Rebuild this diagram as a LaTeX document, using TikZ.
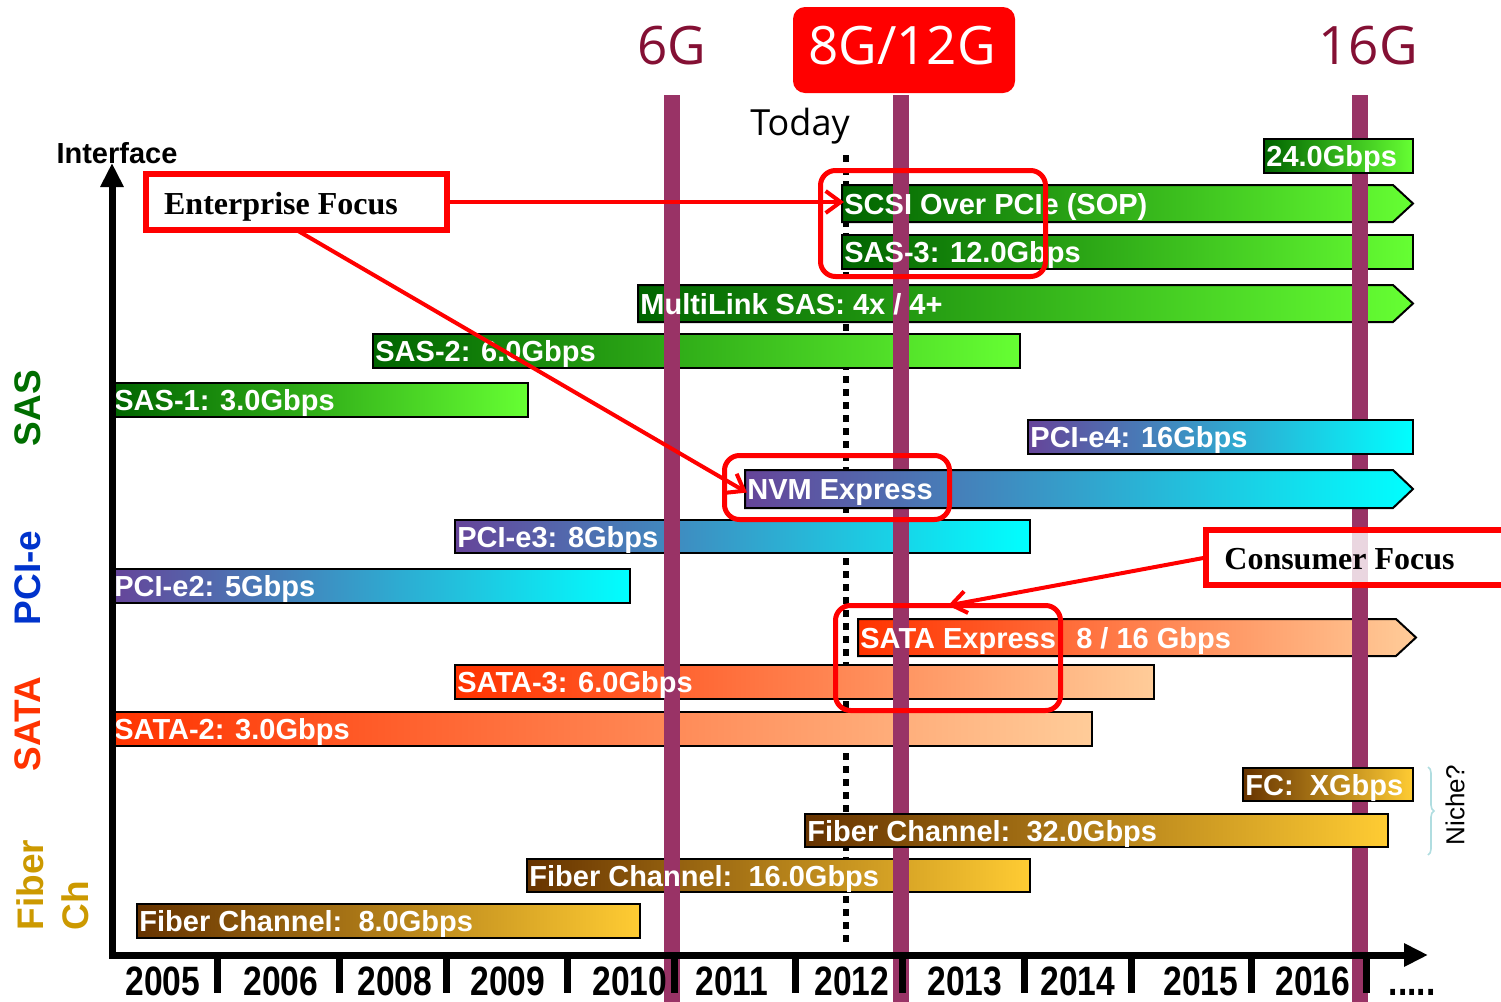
\documentclass[tikz,border=0pt]{standalone}
\usepackage{fontspec}
\setmainfont{Liberation Sans}
\newfontfamily\gfont{Open Sans}
\newfontfamily\tfont{Liberation Serif}
\usetikzlibrary{arrows.meta,decorations.pathreplacing}
\definecolor{purp}{RGB}{153,51,102}
\definecolor{gtxt}{RGB}{132,16,52}
\definecolor{sasD}{RGB}{0,100,0}
\definecolor{sasL}{RGB}{102,255,51}
\definecolor{pciD}{RGB}{102,68,153}
\definecolor{pciL}{RGB}{0,255,255}
\definecolor{sataD}{RGB}{255,51,0}
\definecolor{sataL}{RGB}{255,204,153}
\definecolor{fcD}{RGB}{102,51,0}
\definecolor{fcL}{RGB}{255,204,51}
\definecolor{sasLab}{RGB}{0,110,0}
\definecolor{pciLab}{RGB}{0,51,204}
\definecolor{sataLab}{RGB}{255,51,0}
\definecolor{fcLab}{RGB}{204,153,0}
\definecolor{brc}{RGB}{176,221,224}
\pgfdeclarelayer{back}
\pgfdeclarelayer{bars}
\pgfdeclarelayer{purpl}
\pgfdeclarelayer{topbars}
\pgfsetlayers{back,bars,purpl,topbars,main}
\tikzset{
 bartext/.style={text=white, font=\bfseries\fontsize{14.5}{14.5}\selectfont, inner sep=0pt, anchor=base west},
 barline/.style={draw=black, line width=1pt},
 callout/.style={draw=red, line width=3pt, fill=white, inner sep=0pt, outer sep=0pt},
 redround/.style={draw=red, line width=2.5pt, rounded corners=7.5pt, inner sep=0pt, outer sep=0pt},
 redarrow/.style={draw=red, line width=2pt, -{Straight Barb[length=7.5pt,width=11pt]}},
 yearlab/.style={font=\bfseries\fontsize{20.5}{20.5}\selectfont, xscale=0.82, anchor=base, inner sep=0pt},
 gen/.style={font=\gfont\fontsize{26.5}{26.5}\selectfont, anchor=base, inner sep=0pt},
 side/.style={font=\bfseries\fontsize{18.5}{22.5}\selectfont, rotate=90, inner sep=0pt},
 calltext/.style={font=\tfont\bfseries\fontsize{16}{16}\selectfont, anchor=base, inner sep=0pt},
}
% name, x1, y1, x2, y2, colour family, text, layer
\newcommand\gbar[8]{%
 \begin{pgfonlayer}{#8}\path[barline, left color=#6D, right color=#6L] (#2,#3) rectangle (#4,#5);\end{pgfonlayer}
 \node[bartext] (#1) at ({#2+2},{(#3+#5)/2+10.5}) {#7};}
\newcommand\abar[8]{%
 \begin{pgfonlayer}{#8}\path[barline, left color=#6D, right color=#6L] (#2,#3) -- ({#4-20},#3) -- (#4,{(#3+#5)/2}) -- ({#4-20},#5) -- (#2,#5) -- cycle;\end{pgfonlayer}
 \node[bartext] (#1) at ({#2+2},{(#3+#5)/2+10.5}) {#7};}
\begin{document}
\begin{tikzpicture}[x=0.5pt,y=-0.5pt]
\useasboundingbox (0,0) rectangle (1501,1002);
% today dotted line
\begin{pgfonlayer}{back}
\coordinate (dtop) at (846,155);
\coordinate (dbot) at (846,945);
\draw[line width=3pt, dash pattern=on 3.5pt off 3pt] (dtop) -- (dbot);
\end{pgfonlayer}
% purple generation lines
\begin{pgfonlayer}{purpl}
\fill[purp] (664,95) rectangle (680,1002);
\fill[purp] (893,95) rectangle (909,1002);
\fill[purp] (1352,95) rectangle (1368,1002);
\end{pgfonlayer}
% SAS
\gbar{b24}{1264}{139}{1413}{173}{sas}{24.0Gbps}{topbars}
\abar{sop}{842}{185}{1413}{222}{sas}{SCSI Over PCIe (SOP)}{bars}
\gbar{sas3}{842}{235}{1413}{269}{sas}{SAS-3: 12.0Gbps}{bars}
\abar{mls}{638}{285}{1413}{322}{sas}{MultiLink SAS: 4x / 4+}{bars}
\gbar{sas2}{373}{334}{1020}{368}{sas}{SAS-2: 6.0Gbps}{bars}
\gbar{sas1}{112}{383}{528}{417}{sas}{SAS-1: 3.0Gbps}{bars}
% PCIe
\gbar{pcie4}{1028}{420}{1413}{454}{pci}{PCI-e4: 16Gbps}{topbars}
\abar{nvm}{745}{470}{1413}{508}{pci}{NVM Express}{topbars}
\gbar{pcie3}{455}{520}{1030}{553}{pci}{PCI-e3: 8Gbps}{bars}
\gbar{pcie2}{112}{569}{630}{603}{pci}{PCI-e2: 5Gbps}{bars}
% SATA
\abar{satax}{858}{619}{1416}{656}{sata}{SATA Express: 8 / 16 Gbps}{bars}
\gbar{sata3}{455}{665}{1154}{699}{sata}{SATA-3: 6.0Gbps}{bars}
\gbar{sata2}{112}{712}{1092}{746}{sata}{SATA-2: 3.0Gbps}{bars}
% FC
\gbar{fcx}{1243}{768}{1413}{801}{fc}{FC:\ \ XGbps}{topbars}
\gbar{fc32}{805}{814}{1388}{847}{fc}{Fiber Channel:\ \ 32.0Gbps}{topbars}
\gbar{fc16}{527}{859}{1030}{892}{fc}{Fiber Channel:\ \ 16.0Gbps}{bars}
\gbar{fc8}{137}{904}{640}{938}{fc}{Fiber Channel:\ \ 8.0Gbps}{bars}
% generation labels
\node[gen, text=gtxt] (g6) at (672,64) {6G};
\node[fill=red, rounded corners=6pt, minimum width=111pt, minimum height=43pt, inner sep=0pt] (gbox) at (904,50) {};
\node[gen, text=white] (g812) at (902,64) {8G/12G};
\node[gen, text=gtxt] (g16) at (1368,64) {16G};
\node[font=\gfont\fontsize{18}{18}\selectfont, anchor=base, inner sep=0pt] (today) at (800,135) {Today};
% axes
\coordinate (ytip) at (112,163);
\coordinate (orig) at (112,955);
\coordinate (xtip) at (1428,955);
\draw[line width=3.5pt, line join=miter, {Triangle[length=12pt,width=11pt]}-{Triangle[length=12pt,width=11pt]}] (ytip) -- (orig) -- (xtip);
\foreach \x in {217,339,446,567,674,795,902,1024,1131,1251,1366}
  \draw[line width=3.5pt] (\x,958) -- (\x,993);
\foreach \x/\t in {163/2005,281/2006,395/2008,508/2009,630/2010,732/2011,852/2012,965/2013,1078/2014,1201/2015,1313/2016}
  \node[yearlab] (y\t) at (\x,995) {\t};
\node[yearlab] (ydots) at (1412,995) {.....};
\node[font=\bfseries\fontsize{14.5}{14.5}\selectfont, anchor=base, inner sep=0pt] (iface) at (117,163) {Interface};
% side labels
\node[side, text=sasLab] (lsas) at (28,408) {SAS};
\node[side, text=pciLab] (lpci) at (28,578) {PCI-e};
\node[side, text=sataLab] (lsata) at (28,724) {SATA};
\node[side, text=fcLab, align=left] (lfc) at (53,885) {Fiber\\Ch};
% niche
\coordinate (bt) at (1428,767);
\coordinate (bb) at (1428,855);
\draw[brc, line width=0.8pt, decorate, decoration={brace, amplitude=3pt}] (bt) -- (bb);
\node[rotate=90, font=\fontsize{13}{13}\selectfont, inner sep=0pt] (niche) at (1455,805) {Niche?};
% callouts
\node[callout, minimum width=150.5pt, minimum height=28pt] (ent) at (296.5,202) {};
\node[calltext] (entt) at (281,214) {Enterprise Focus};
\node[callout, fill opacity=0.8, minimum width=152pt, minimum height=27.5pt] (con) at (1358,557.5) {};
\node[calltext] (cont) at (1339.5,569) {Consumer Focus};
\node[redround, minimum width=112.5pt, minimum height=53pt] (sopbox) at (933,223.5) {};
\node[redround, minimum width=112.5pt, minimum height=32pt] (nvmbox) at (837,487.5) {};
\node[redround, minimum width=112.5pt, minimum height=52.5pt] (satabox) at (948,658) {};
\draw[redarrow] (ent.east) -- (ent.east -| sop.west);
\draw[redarrow] (ent.south) -- (nvm.west);
\draw[redarrow] (con.west) -- (satabox.north);
\end{tikzpicture}
\end{document}
